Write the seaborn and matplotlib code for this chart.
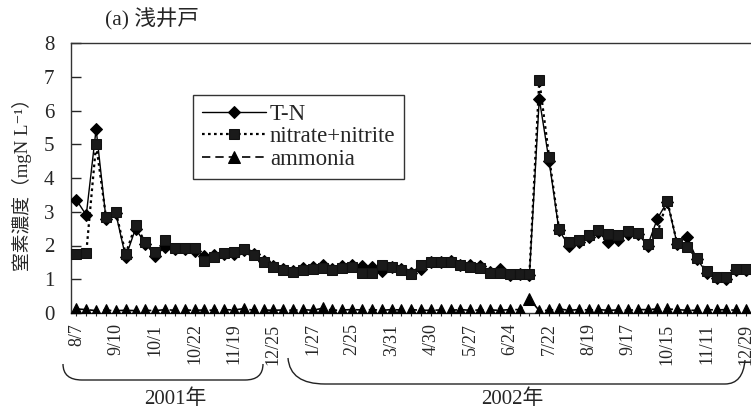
import numpy as np
import pandas as pd
import seaborn as sns
import matplotlib
matplotlib.use("Agg")
import matplotlib.pyplot as plt
from matplotlib.path import Path
from matplotlib.patches import PathPatch

# Sampling-date labels (one label every 4 samples)
date_labels = ["8/7", "9/10", "10/1", "10/22", "11/19", "12/25", "1/27", "2/25",
               "3/31", "4/30", "5/27", "6/24", "7/22", "8/19", "9/17", "10/15",
               "11/11", "12/29"]

# Total nitrogen (mgN/L)
tn = [3.35, 2.9, 5.45, 2.8, 2.95, 1.65, 2.5, 2.05, 1.7, 1.95,
      1.9, 1.9, 1.85, 1.7, 1.72, 1.75, 1.75, 1.88, 1.75, 1.55,
      1.4, 1.3, 1.25, 1.33, 1.35, 1.42, 1.3, 1.38, 1.42, 1.4,
      1.35, 1.25, 1.35, 1.3, 1.2, 1.3, 1.5, 1.5, 1.55, 1.42,
      1.42, 1.4, 1.22, 1.3, 1.12, 1.15, 1.12, 6.35, 4.5, 2.45,
      2.0, 2.1, 2.25, 2.4, 2.1, 2.15, 2.35, 2.35, 2.0, 2.8,
      3.3, 2.05, 2.25, 1.6, 1.2, 1.03, 1.02, 1.28, 1.28]

# Nitrate + nitrite (mgN/L)
no3 = [1.75, 1.78, 5.0, 2.85, 3.0, 1.75, 2.6, 2.1, 1.8, 2.15,
       1.93, 1.93, 1.92, 1.55, 1.65, 1.77, 1.8, 1.9, 1.72, 1.5,
       1.37, 1.27, 1.22, 1.27, 1.3, 1.32, 1.27, 1.32, 1.37, 1.18,
       1.18, 1.42, 1.37, 1.27, 1.15, 1.42, 1.5, 1.5, 1.5, 1.42,
       1.37, 1.32, 1.2, 1.2, 1.15, 1.15, 1.15, 6.9, 4.63, 2.5,
       2.1, 2.16, 2.3, 2.45, 2.35, 2.3, 2.42, 2.38, 2.05, 2.38,
       3.33, 2.06, 1.97, 1.62, 1.25, 1.08, 1.08, 1.3, 1.3]

# Ammonia (mgN/L)
nh4 = [0.12, 0.1, 0.07, 0.08, 0.07, 0.08, 0.07, 0.08, 0.07, 0.1,
       0.08, 0.09, 0.08, 0.09, 0.08, 0.1, 0.09, 0.13, 0.08, 0.09,
       0.08, 0.09, 0.08, 0.1, 0.08, 0.14, 0.08, 0.09, 0.1, 0.09,
       0.1, 0.08, 0.1, 0.09, 0.1, 0.08, 0.08, 0.09, 0.08, 0.1,
       0.08, 0.09, 0.09, 0.08, 0.1, 0.1, 0.42, 0.07, 0.08, 0.12,
       0.08, 0.1, 0.09, 0.1, 0.08, 0.09, 0.08, 0.1, 0.1, 0.12,
       0.12, 0.1, 0.08, 0.08, 0.1, 0.09, 0.1, 0.08, 0.1]

n = len(tn)
df = pd.DataFrame({"sample": np.arange(n), "T-N": tn,
                   "nitrate+nitrite": no3, "ammonia": nh4})

sns.set_theme(style="white")
plt.rcParams["font.family"] = ["Liberation Serif", "Noto Sans CJK JP", "DejaVu Serif"]

W, H = 751, 412
fig = plt.figure(figsize=(W / 100, H / 100), dpi=100)
ax = fig.add_axes([71 / W, 1 - 313 / H, 680 / W, 270 / H])

sns.lineplot(data=df, x="sample", y="T-N", ax=ax, color="black", lw=1.0,
             marker="D", markersize=6, markeredgecolor="black",
             markerfacecolor="black", label="T-N", zorder=3)
sns.lineplot(data=df, x="sample", y="nitrate+nitrite", ax=ax, color="black",
             lw=1.6, dashes=False, linestyle=(0, (1.2, 1.5)), marker="s",
             markersize=7.8, markeredgecolor="#111111",
             markerfacecolor="#1a1a1a", label="nitrate+nitrite", zorder=4)
sns.lineplot(data=df, x="sample", y="ammonia", ax=ax, color="black", lw=1.2,
             linestyle=(0, (5, 3)), marker="^", markersize=8,
             markeredgecolor="black", markerfacecolor="black",
             label="ammonia", zorder=5)

step = 4
ax.set_xlim(-0.55, n - 0.5)
ax.set_ylim(0, 8)
ax.set_xticks(np.arange(0, n, step))
ax.set_xticklabels(date_labels, rotation=90, fontsize=13)
ax.set_xticks(np.arange(n), minor=True)
ax.set_yticks(range(0, 9))
ax.tick_params(axis="y", direction="in", length=7, width=1, pad=12,
               labelsize=15, left=True)
ax.tick_params(axis="x", which="both", direction="out", length=2.5,
               width=0.8, pad=5, bottom=True)
ax.set_xlabel("")
ax.set_ylabel("")

for side in ["left", "bottom", "top"]:
    ax.spines[side].set_visible(True)
    ax.spines[side].set_color("#333333")
    ax.spines[side].set_linewidth(1.0)
ax.spines["right"].set_visible(False)

leg = ax.legend(loc="upper left",
                bbox_to_anchor=((193 - 71) / 680, (313 - 95) / 270),
                borderaxespad=0, frameon=True, fancybox=False,
                edgecolor="#333333", framealpha=1, fontsize=16.5,
                handlelength=2.8, handletextpad=0.15, labelspacing=0.05,
                borderpad=0.4, numpoints=1)
leg.get_frame().set_linewidth(1.0)

# Title and axis label
fig.text(105 / W, 1 - 19 / H, "(a) 浅井戸", fontsize=15.5, ha="left", va="center")
fig.text(22 / W, 1 - 180 / H, "窒素濃度（mgN L⁻¹）", fontsize=13.5,
         rotation=90, ha="center", va="center")


def px(x, y):
    return (x / W, 1 - y / H)


def brace(points, codes):
    verts = [px(*p) for p in points]
    patch = PathPatch(Path(verts, codes), transform=fig.transFigure,
                      facecolor="none", edgecolor="#222222", lw=1.0)
    fig.add_artist(patch)


C = [Path.MOVETO, Path.CURVE3, Path.CURVE3, Path.LINETO, Path.CURVE3, Path.CURVE3]
brace([(63, 364), (63, 380), (82, 380), (245, 380), (263, 380), (263, 364)], C)
brace([(288, 358), (290, 384), (325, 384), (725, 384), (743, 384), (745, 360)], C)

fig.text(175 / W, 1 - 399 / H, "2001年", fontsize=15, ha="center", va="center")
fig.text(512 / W, 1 - 399 / H, "2002年", fontsize=15, ha="center", va="center")

fig.savefig("out.png", dpi=100)
